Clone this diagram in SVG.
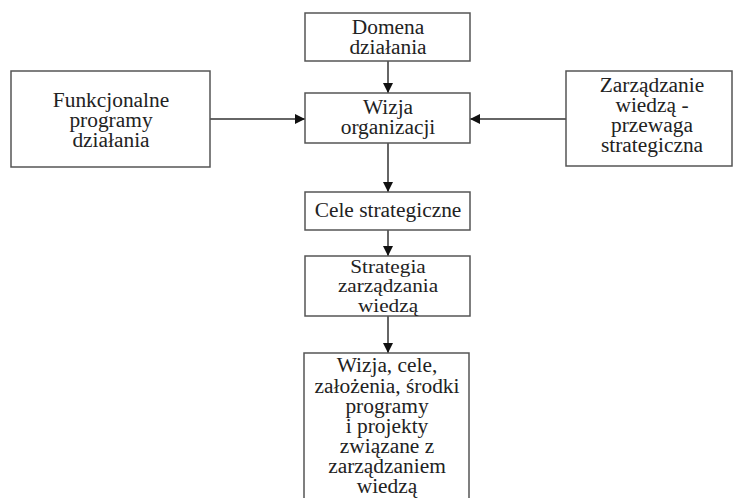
<svg xmlns="http://www.w3.org/2000/svg" width="733" height="498" viewBox="0 0 733 498">
<defs>
<marker id="arr" viewBox="0 0 10 10" refX="10" refY="5" markerWidth="10" markerHeight="10" markerUnits="userSpaceOnUse" orient="auto">
<path d="M0,0 L10,5 L0,10 z" fill="#111"/>
</marker>
<style>
.box{fill:#fff;stroke:#555;stroke-width:1.5}
.t{font-family:"Liberation Serif","Times New Roman",serif;font-size:20px;fill:#222;text-anchor:middle}
.s{font-size:18px}
.c{stroke:#333;stroke-width:1.5;fill:none;marker-end:url(#arr)}
</style>
</defs>
<rect width="733" height="498" fill="#fff"/>
<g id="connectors">
<line class="c" x1="388" y1="61" x2="388" y2="93"/>
<line class="c" x1="210" y1="119" x2="305" y2="119"/>
<line class="c" x1="566" y1="119" x2="470" y2="119"/>
<line class="c" x1="388" y1="143" x2="388" y2="192"/>
<line class="c" x1="388" y1="230" x2="388" y2="256"/>
<line class="c" x1="388" y1="316" x2="388" y2="353"/>
</g>
<g id="domena">
<rect class="box" x="305" y="13" width="165" height="48"/>
<g transform="translate(388 0) scale(1.07 1)">
<text class="t" x="0" y="34">Domena</text>
<text class="t" x="0" y="54">działania</text>
</g>
</g>
<g id="wizja">
<rect class="box" x="305" y="93" width="165" height="50"/>
<g transform="translate(388 0) scale(1.07 1)">
<text class="t" x="0" y="114">Wizja</text>
<text class="t" x="0" y="134">organizacji</text>
</g>
</g>
<g id="funkcjonalne">
<rect class="box" x="11" y="71" width="199" height="96"/>
<g transform="translate(111 0) scale(1.07 1)">
<text class="t" x="0" y="107">Funkcjonalne</text>
<text class="t" x="0" y="127">programy</text>
<text class="t" x="0" y="147">działania</text>
</g>
</g>
<g id="zarzadzanie">
<rect class="box" x="566" y="71" width="166" height="95"/>
<g transform="translate(652 0) scale(1.07 1)">
<text class="t" x="0" y="92">Zarządzanie</text>
<text class="t" x="0" y="112">wiedzą -</text>
<text class="t" x="0" y="132">przewaga</text>
<text class="t" x="0" y="152">strategiczna</text>
</g>
</g>
<g id="cele">
<rect class="box" x="305" y="192" width="165" height="38"/>
<g transform="translate(388 0) scale(1.07 1)">
<text class="t" x="0" y="217">Cele strategiczne</text>
</g>
</g>
<g id="strategia">
<rect class="box" x="305" y="256" width="165" height="60"/>
<g transform="translate(388 0) scale(1.18 1)">
<text class="t s" x="0" y="273">Strategia</text>
<text class="t s" x="0" y="292.5">zarządzania</text>
<text class="t s" x="0" y="312">wiedzą</text>
</g>
</g>
<g id="wizja-cele">
<rect class="box" x="304" y="353" width="165" height="150"/>
<g transform="translate(387 0) scale(1.07 1)">
<text class="t" x="0" y="372">Wizja, cele,</text>
<text class="t" x="0" y="393">założenia, środki</text>
<text class="t" x="0" y="413">programy</text>
<text class="t" x="0" y="433">i projekty</text>
<text class="t" x="0" y="453">związane z</text>
<text class="t" x="0" y="473">zarządzaniem</text>
<text class="t" x="0" y="493">wiedzą</text>
</g>
</g>
</svg>
